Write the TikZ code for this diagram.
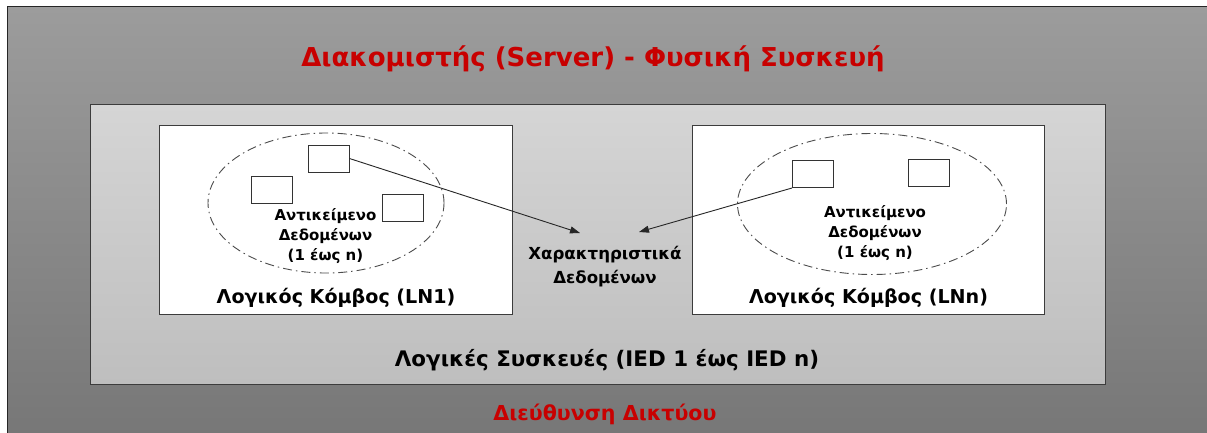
\documentclass[tikz,border=0pt]{standalone}
\usepackage{fontspec}
\setmainfont{DejaVu Sans}
\usepackage{xcolor}
\usetikzlibrary{positioning,arrows.meta,shapes.geometric}
\definecolor{srvtop}{RGB}{156,156,156}
\definecolor{srvbot}{RGB}{118,118,118}
\definecolor{iedtop}{RGB}{213,213,213}
\definecolor{iedbot}{RGB}{190,190,190}
\definecolor{titlered}{RGB}{200,0,0}
\definecolor{edgegray}{RGB}{60,60,60}

\tikzset{
	srvbox/.style={rectangle, draw=black!85, line width=1.2pt,
		top color=srvtop, bottom color=srvbot, inner sep=0pt},
	iedbox/.style={rectangle, draw=edgegray, line width=1.4pt,
		top color=iedtop, bottom color=iedbot, inner sep=0pt},
	lnbox/.style={rectangle, draw=edgegray, line width=1.1pt, fill=white,
		minimum width=353pt, minimum height=189pt, inner sep=0pt},
	objset/.style={ellipse, draw=black!70, line width=0.9pt,
		dash pattern=on 9pt off 4pt on 1.5pt off 4pt, inner sep=0pt},
	objbox/.style={rectangle, draw=black!80, line width=1pt, fill=white,
		minimum width=41pt, minimum height=27pt, inner sep=0pt},
	objtext/.style={align=center, inner sep=0pt, font=\bfseries\fontsize{15}{20}\selectfont},
	lnlabel/.style={inner sep=0pt, font=\bfseries\fontsize{19.1}{22}\selectfont},
	redtext/.style={inner sep=0pt, text=titlered},
	link/.style={draw=black!85, line width=0.9pt, -{Triangle[length=10pt,width=7pt]}}
}

\begin{document}
\begin{tikzpicture}[x=1pt,y=-1pt]
	\useasboundingbox (0,0) rectangle (1207,432);
	% Serveur (physique)
	\node[srvbox, minimum width=1215pt, minimum height=440pt, anchor=north west] (srv) at (7,6) {};
	\node[redtext, font=\bfseries\fontsize{26}{30}\selectfont] (srvtitle) at (593,59) {Διακομιστής (Server) - Φυσική Συσκευή};
	
	% Dispositifs logiques
	\node[iedbox, minimum width=1015pt, minimum height=280pt, anchor=north west] (ied) at (90,104) {};
	\node[inner sep=0pt, font=\bfseries\fontsize{21.4}{24}\selectfont] (iedlabel) at (607,360) {Λογικές Συσκευές (IED 1 έως IED n)};
	\node[redtext, font=\bfseries\fontsize{20.6}{24}\selectfont] (netaddr) at (605,414) {Διεύθυνση Δικτύου};
	
	% Noeud logique LN1
	\node[lnbox, anchor=north west] (ln1) at (159,125) {};
	\node[objset, minimum width=236pt, minimum height=140pt] (set1) at (326,203) {};
	\node[objbox] (obj1) at (328.5,158.5) {};
	\node[objbox] (obj2) at (271.5,190) {};
	\node[objbox] (obj3) at (402.5,207.5) {};
	\node[objtext] (objtxt1) at (325.5,236) {Αντικείμενο\\Δεδομένων\\(1 έως n)};
	\node[lnlabel, above=7pt of ln1.south] (ln1label) {Λογικός Κόμβος (LN1)};
	
	% Noeud logique LNn
	\node[lnbox, minimum width=352pt, anchor=north west] (lnn) at (692,125) {};
	\node[objset, minimum width=269pt, minimum height=141pt] (setn) at (872,204) {};
	\node[objbox] (objn1) at (813,174) {};
	\node[objbox] (objn2) at (928.5,173) {};
	\node[objtext] (objtxtn) at (875,233) {Αντικείμενο\\Δεδομένων\\(1 έως n)};
	\node[lnlabel, above=7pt of lnn.south] (lnnlabel) {Λογικός Κόμβος (LNn)};
	
	% Caracteristiques des donnees
	\node[align=center, inner sep=0pt, font=\bfseries\fontsize{16.6}{24}\selectfont] (dattr) at (605,267) {Χαρακτηριστικά\\Δεδομένων};
	\coordinate (tipl) at (580,233);
	\coordinate (tipr) at (639,232);
	\draw[link] (obj1.east) -- (tipl);
	\draw[link] (objn1.south west) -- (tipr);
\end{tikzpicture}
\end{document}
